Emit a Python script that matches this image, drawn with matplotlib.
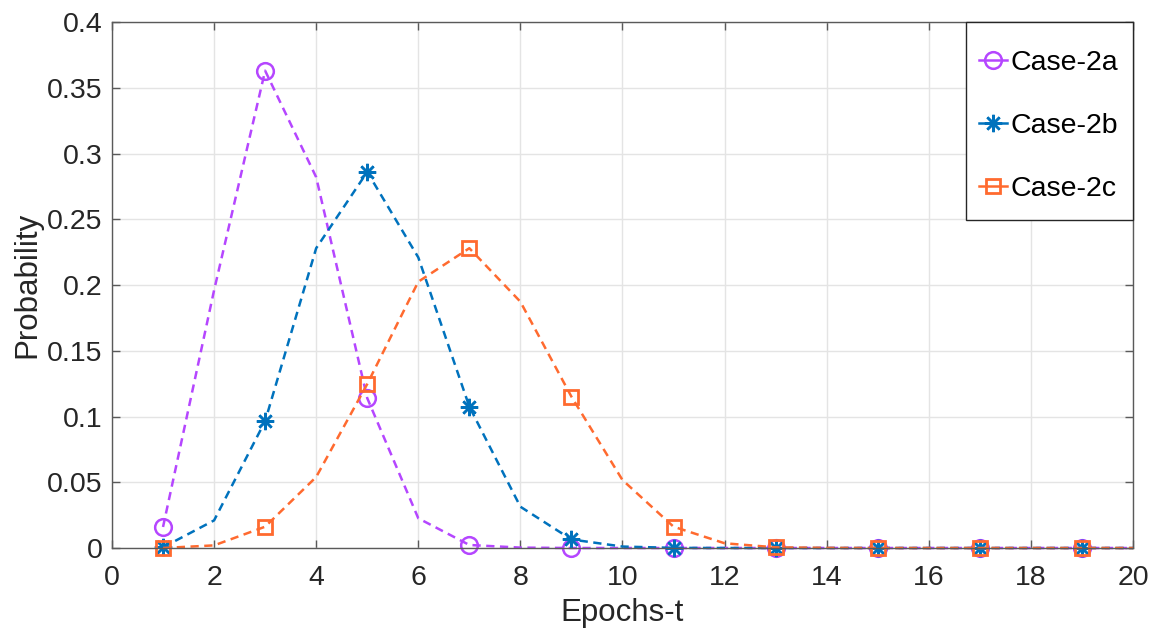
import matplotlib
matplotlib.use("Agg")
import matplotlib.pyplot as plt
from matplotlib.patches import Rectangle
from matplotlib.ticker import FuncFormatter, MultipleLocator

plt.rcParams['font.family'] = ['Liberation Sans', 'DejaVu Sans']

epochs = list(range(1, 21))

case_2a = [0.016, 0.196, 0.363, 0.282, 0.114, 0.0226, 0.0023, 0.0003, 0.0, 0.0,
           0.0, 0.0, 0.0, 0.0, 0.0, 0.0, 0.0, 0.0, 0.0, 0.0]
case_2b = [0.0005, 0.021, 0.0965, 0.228, 0.286, 0.221, 0.1075, 0.0314, 0.0065, 0.0011,
           0.0001, 0.0, 0.0, 0.0, 0.0, 0.0, 0.0, 0.0, 0.0, 0.0]
case_2c = [0.0, 0.002, 0.0162, 0.054, 0.1247, 0.2025, 0.228, 0.1873, 0.1151, 0.0517,
           0.0162, 0.0036, 0.0005, 0.0001, 0.0, 0.0, 0.0, 0.0, 0.0, 0.0]

labels = ['Case-2a', 'Case-2b', 'Case-2c']
colors = ['#B546FF', '#0072BD', '#FF6A2F']

fig = plt.figure(figsize=(11.58, 6.35), dpi=100)
ax = fig.add_axes([0.0967, 0.137, 0.8817, 0.8283])

asterisk = (8, 2, 0)
styles = [
    dict(marker='o', markersize=12, markerfacecolor='none', markeredgewidth=1.8),
    dict(marker=asterisk, markersize=12.5, markeredgewidth=1.8),
    dict(marker='s', markersize=10, markerfacecolor='none', markeredgewidth=2.0),
]

for y, lab, col, st in zip([case_2a, case_2b, case_2c], labels, colors, styles):
    ax.plot(epochs, y, linestyle=(0, (3.3, 2.2)), linewidth=1.8, color=col,
            markeredgecolor=col, markevery=slice(0, None, 2), label=lab,
            clip_on=False, **st)

ax.set_xlim(0, 20)
ax.set_ylim(0, 0.4)
ax.xaxis.set_major_locator(MultipleLocator(2))
ax.yaxis.set_major_locator(MultipleLocator(0.05))
ax.yaxis.set_major_formatter(FuncFormatter(lambda v, p: '%g' % round(v, 4)))

ax.grid(True, color='#E4E4E4', linewidth=1.0)
ax.set_axisbelow(True)
for s in ax.spines.values():
    s.set_color('#5A5A5A')
    s.set_linewidth(1.0)
ax.tick_params(direction='in', length=6, width=1.0, color='#5A5A5A',
               labelsize=20.5, labelcolor='#262626', top=True, right=True)
ax.tick_params(axis='x', pad=12)
ax.tick_params(axis='y', pad=7)

ax.set_xlabel('Epochs-t', fontsize=22.5, color='#262626', labelpad=5)
ax.set_ylabel('Probability', fontsize=22.5, color='#262626', labelpad=3)

# legend box drawn separately so its padding can differ per side
ax.add_patch(Rectangle((0.8364, 0.6236), 0.1636, 0.3764, transform=ax.transAxes,
                       facecolor='white', edgecolor='#262626', linewidth=1.0,
                       zorder=4.5, clip_on=False))
leg = ax.legend(loc='upper left', bbox_to_anchor=(0.849, 0.947), fontsize=20.5,
                frameon=False, borderaxespad=0, borderpad=0, handlelength=1.0,
                handletextpad=0.1, labelspacing=1.3)
leg.set_zorder(5)
for h in leg.legend_handles:
    h.set_linestyle('-')

fig.savefig('out.png', dpi=100)
